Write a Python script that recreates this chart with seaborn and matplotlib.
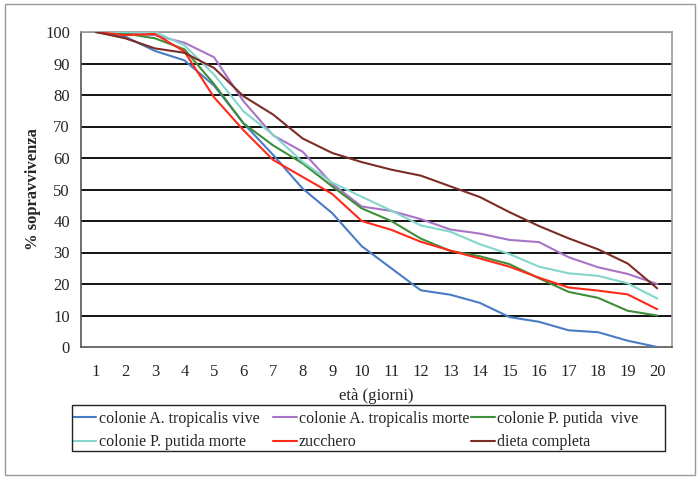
import numpy as np
import pandas as pd
import matplotlib
matplotlib.use("Agg")
import matplotlib.pyplot as plt
import seaborn as sns
from matplotlib.lines import Line2D
from matplotlib.patches import Rectangle

days = list(range(1, 21))
series_names = [
    "colonie A. tropicalis vive",
    "colonie A. tropicalis morte",
    "colonie P. putida  vive",
    "colonie P. putida morte",
    "zucchero",
    "dieta completa",
]
at_vive = [100, 98.5, 94, 91, 83, 71, 61, 50.3, 42.5, 32, 25, 18, 16.6, 14, 9.5, 8, 5.3, 4.7, 2, 0]
at_morte = [100, 99.5, 99, 96.6, 92, 78, 67.2, 62, 51.8, 44.6, 43.2, 40.6, 37.3, 36, 34, 33.3, 28.5, 25.3, 23.2, 20]
pp_vive = [100, 99.5, 98, 94.5, 83.5, 71, 64, 58.3, 51, 44, 40, 34.4, 30.5, 28.8, 26.3, 21.8, 17.5, 15.6, 11.5, 10]
pp_morte = [100, 100, 100, 95.8, 86.5, 74.8, 67.4, 58.8, 52.2, 47.7, 43.3, 38.6, 36.6, 32.6, 29.5, 25.5, 23.4, 22.6, 20.2, 15.4]
zucchero = [100, 99, 99.4, 93.8, 79.3, 68.8, 59.4, 54, 48.6, 40, 37.2, 33.4, 30.6, 28.1, 25.5, 22, 18.9, 17.9, 16.7, 12]
dieta = [100, 98, 94.8, 93.4, 88.6, 79.6, 73.8, 66.2, 61.6, 58.7, 56.3, 54.4, 51, 47.6, 42.8, 38.4, 34.5, 31, 26.5, 18.6]
y_ticks = list(range(0, 101, 10))

colors = ["#4a7cc4", "#a874c6", "#3f8f3a", "#84d6cd", "#ff2a1a", "#7b2d26"]

all_vals = [at_vive, at_morte, pp_vive, pp_morte, zucchero, dieta]
df = pd.concat([
    pd.DataFrame({"day": days, "value": v, "series": n})
    for n, v in zip(series_names, all_vals)
], ignore_index=True)

sns.set_style("white")
plt.rcParams["font.family"] = ["Liberation Serif", "DejaVu Serif"]

fig = plt.figure(figsize=(7, 4.79), dpi=100)
ax = fig.add_axes([81/700, 1-347/479, (672-81)/700, (347-32)/479])

sns.lineplot(data=df, x="day", y="value", hue="series", hue_order=series_names,
             palette=colors, linewidth=1.5, legend=False, ax=ax, zorder=3)

ax.set_xlim(0.5, 20.5)
ax.set_ylim(0, 100)
ax.set_yticks(y_ticks)
ax.set_yticklabels([str(t) for t in y_ticks], fontsize=12)
ax.set_xticks(days)
ax.set_xticklabels([str(d) for d in days], fontsize=12)
ax.set_xticks(np.arange(0.5, 21, 1.0), minor=True)
ax.tick_params(axis="x", which="major", length=0, pad=12)
ax.tick_params(axis="x", which="minor", length=5, width=1, color="#555555", direction="out")
ax.tick_params(axis="y", which="major", length=5, width=1, color="#555555", direction="out", pad=3)

for y in y_ticks[1:]:
    ax.axhline(y, color="black" if y < 100 else "#888888", linewidth=1.3, zorder=1)

ax.spines["left"].set_color("#555555")
ax.spines["bottom"].set_color("#555555")
ax.spines["right"].set_color("#999999")
ax.spines["top"].set_color("#999999")
for s in ax.spines.values():
    s.set_linewidth(1.2)
    s.set_visible(True)

ax.set_xlabel("età (giorni)", fontsize=12, labelpad=6)
ax.set_ylabel("% sopravvivenza", fontsize=12, fontweight="bold")
ax.yaxis.set_label_coords((41-81)/591, 0.5)

handles = [Line2D([0], [0], color=c, linewidth=1.5) for c in colors]
col_x = [72.5, 273, 471]
col_items = [[0, 3], [1, 4], [2, 5]]
legends = []
for cx, items in zip(col_x, col_items):
    leg = ax.legend([handles[i] for i in items], [series_names[i] for i in items],
                    ncol=1, loc="upper left",
                    bbox_to_anchor=(cx/700, 1-411/479),
                    bbox_transform=fig.transFigure,
                    fontsize=11.5, frameon=False, handlelength=1.5,
                    handletextpad=0.13, borderaxespad=0, borderpad=0,
                    labelspacing=0.45)
    legends.append(leg)
for leg in legends[:-1]:
    ax.add_artist(leg)

fig.patches.append(Rectangle((72/700, 1-451/479), 593/700, 46/479, transform=fig.transFigure,
                             fill=False, edgecolor="#222222", linewidth=1.0))
fig.patches.append(Rectangle((4.5/700, 4/479), 690/700, 471/479, transform=fig.transFigure,
                             fill=False, edgecolor="#999999", linewidth=1.0))

fig.savefig("out.png", dpi=100, facecolor="white")
